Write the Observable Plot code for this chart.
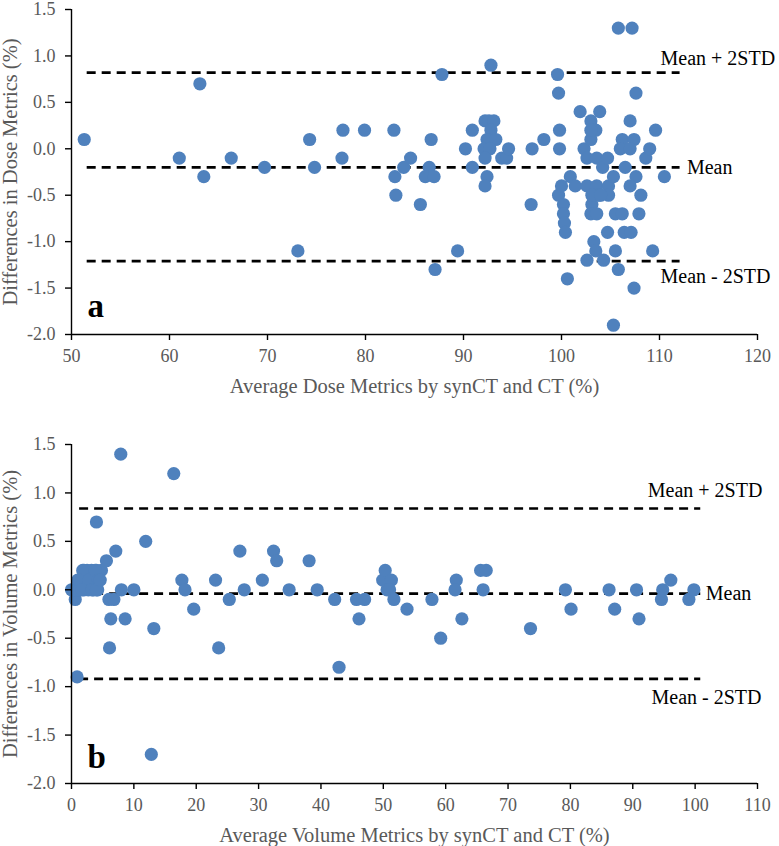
<!DOCTYPE html>
<html>
<head>
<meta charset="utf-8">
<script src="https://cdn.jsdelivr.net/npm/d3@7"></script>
<script src="https://cdn.jsdelivr.net/npm/@observablehq/plot@0.6"></script>
<style>
  html, body { margin: 0; padding: 0; background: #fff; }
  #chart svg { display: block; }
</style>
</head>
<body>
<div id="chart"></div>
<script>
// ---- Panel a: dose metrics ----
const doseAvg = [
  51.3, 61.0, 63.1, 63.5, 66.3, 69.7, 73.1, 74.3, 74.8, 77.7, 77.6, 79.9,
  82.9, 83.0, 83.1, 83.9, 84.6, 85.6, 86.7, 86.5, 86.1, 87.0, 87.1, 87.8,
  89.4, 90.2, 90.9, 90.9, 92.8, 92.2, 92.6, 93.1, 92.8, 92.4, 93.3, 92.1,
  92.7, 92.2, 92.4, 92.2, 93.9, 94.4, 94.6, 96.9, 97.0, 98.2, 99.6, 99.7,
  99.8, 99.8, 99.7, 100.0, 100.2, 100.2, 100.3, 100.4, 100.6, 100.9, 101.4, 101.9,
  102.3, 102.6, 102.6, 102.6, 103.0, 103.5, 103.0, 103.0, 103.6, 103.1, 103.0, 103.6,
  103.6, 103.3, 103.5, 103.9, 104.2, 104.7, 103.8, 104.8, 104.8, 104.3, 104.7, 105.3,
  105.3, 105.5, 106.2, 105.5, 105.8, 105.8, 107.2, 106.2, 107.4, 106.0, 107.0, 106.5,
  106.4, 107.1, 107.0, 107.6, 107.6, 107.0, 108.1, 107.9, 107.4, 108.6, 109.0, 109.6,
  109.3, 110.5, 103.1, 104.0
];
const doseDiff = [
   0.1, -0.1,  0.7, -0.3, -0.1, -0.2, -1.1,  0.1, -0.2,  0.2, -0.1,  0.2,
   0.2, -0.3, -0.5, -0.2, -0.1, -0.6,  0.1, -0.2, -0.3, -0.3, -1.3,  0.8,
  -1.1,  0.0,  0.2, -0.2,  0.9,  0.3,  0.3,  0.3,  0.2,  0.1,  0.1,  0.0,
   0.0, -0.1, -0.3, -0.4, -0.1, -0.1,  0.0, -0.6,  0.0,  0.1,  0.8,  0.6,
   0.2,  0.0, -0.5, -0.4, -0.6, -0.7, -0.8, -0.9, -1.4, -0.3, -0.4,  0.4,
   0.0, -0.1, -0.4, -1.2,  0.3,  0.2,  0.1,  0.2, -0.1, -0.6, -0.7, -0.7,
  -0.4, -1.0, -1.1,  0.4, -0.2, -0.1, -0.5, -0.4, -0.5, -1.2, -0.9, -0.3,
  -1.9, -0.7, -0.7, -1.1, -1.3,  1.3,  1.3,  0.1,  0.1,  0.0,  0.0, -0.2,
  -0.9, -0.9,  0.3,  0.6, -0.3, -0.4, -0.5, -0.7, -1.5, -0.1,  0.0,  0.2,
  -1.1, -0.3, -0.5, -0.5
];
const doseMean = -0.2, doseUpper = 0.82, doseLower = -1.21;
const doseXTicks = [50, 60, 70, 80, 90, 100, 110, 120];

// ---- Panel b: volume metrics ----
const volAvg = [
  0.0, 0.6, 0.9, 0.3, 0.8, 1.0, 1.3, 1.5, 1.8, 2.0, 2.2, 2.5, 2.7, 3.0, 3.2, 3.5,
  3.7, 4.0, 4.2, 4.5, 4.8, 2.0, 1.2, 2.8, 3.8, 4.3, 1.7, 3.3, 4.0, 4.6,
  4.0, 5.6, 7.1, 7.9, 6.0, 6.8, 6.3, 6.1, 8.0, 8.6, 10.0, 11.9, 12.8, 13.2,
  16.4, 17.7, 18.2, 19.6, 23.1, 23.6, 25.3, 27.0, 27.7, 30.6, 32.4, 32.9, 34.9,
  38.1, 39.4, 42.2, 42.9, 45.7, 47.0, 46.1, 49.9, 50.3, 50.6, 51.3, 51.0, 51.7,
  53.8, 57.8, 59.2, 61.7, 61.5, 62.6, 65.6, 66.5, 66.0, 73.6, 79.2, 80.1, 86.2,
  87.1, 90.6, 91.0, 94.6, 94.8, 96.1, 99.0, 99.8
];
const volDiff = [
   0.0, -0.1, -0.9,  0.0,  0.0,  0.1,  0.0,  0.1,  0.2,  0.0,  0.1,  0.2,  0.0,  0.1,  0.2,  0.0,
   0.1,  0.2,  0.0,  0.1,  0.2,  0.2,  0.1,  0.1,  0.2,  0.1,  0.0,  0.0,  0.0,  0.1,
   0.7,  0.3,  0.4,  1.4, -0.1, -0.1, -0.3, -0.6,  0.0, -0.3,  0.0,  0.5, -1.7, -0.4,
   1.2,  0.1,  0.0, -0.2,  0.1, -0.6, -0.1,  0.4,  0.0,  0.1,  0.4,  0.3,  0.0,
   0.3,  0.0, -0.1, -0.8, -0.1, -0.1, -0.3,  0.1,  0.2,  0.0,  0.1,  0.0, -0.1,
  -0.2, -0.1, -0.5,  0.1,  0.0, -0.3,  0.2,  0.2,  0.0, -0.4,  0.0, -0.2,  0.0,
  -0.2,  0.0, -0.3, -0.1,  0.0,  0.1, -0.1,  0.0
];
const volMean = -0.04, volUpper = 0.84, volLower = -0.92;
const volXTicks = [0, 10, 20, 30, 40, 50, 60, 70, 80, 90, 100, 110];

const yTicks = [-2.0, -1.5, -1.0, -0.5, 0.0, 0.5, 1.0, 1.5];
const limitLabels = ["Mean + 2STD", "Mean", "Mean - 2STD"];

const FONT = '"Liberation Serif", "Times New Roman", serif';
const BLUE = "#4F81BD";
const GREY = "#595959";
const fmt = d => d.toFixed(1);

function panel({avg, diff, xDomain, xTicks, mean, upper, lower, lineX, labelX, meanLabelX,
                upDy, lowDy, letter, letterDy, xTitle, yTitle, height, marginTop, marginBottom}) {
  const pts = avg.map((x, i) => ({x, y: diff[i]}));
  const lims = [upper, mean, lower];
  return Plot.plot({
    width: 779, height, marginLeft: 71, marginRight: 22, marginTop, marginBottom,
    x: {domain: xDomain},
    y: {domain: [-2, 1.5]},
    style: {fontFamily: FONT, fontSize: "18px", background: "white", overflow: "visible"},
    marks: [
      Plot.ruleY(lims, {x1: lineX[0], x2: lineX[1], y: d => d, stroke: "black", strokeWidth: 2.6, strokeDasharray: "9,6"}),
      Plot.dot(pts, {x: "x", y: "y", r: 6.6, fill: BLUE}),
      Plot.ruleX([xDomain[0]], {stroke: "black", strokeWidth: 1.4}),
      Plot.ruleY([-2], {stroke: "black", strokeWidth: 1.4}),
      Plot.axisY({ticks: yTicks, tickSize: 6, tickFormat: () => "", color: "black", strokeWidth: 1.4, label: null}),
      Plot.axisY({ticks: yTicks, tickSize: 0, tickPadding: 16, tickFormat: fmt, color: GREY, fontSize: 18, label: null}),
      Plot.axisX({ticks: xTicks, tickSize: 6, tickFormat: () => "", color: "black", strokeWidth: 1.4, label: null}),
      Plot.axisX({ticks: xTicks, tickSize: 0, tickPadding: 15, tickFormat: d => String(d), color: GREY, fontSize: 18, label: null}),
      Plot.text([limitLabels[0]], {x: labelX[0], y: upper, text: d => d, textAnchor: "start", lineAnchor: "bottom", dy: upDy, fontSize: 20, fill: "black"}),
      Plot.text([limitLabels[1]], {x: meanLabelX, y: mean, text: d => d, textAnchor: "start", lineAnchor: "middle", fontSize: 20, fill: "black"}),
      Plot.text([limitLabels[2]], {x: labelX[1], y: lower, text: d => d, textAnchor: "start", lineAnchor: "bottom", dy: lowDy, fontSize: 20, fill: "black"}),
      Plot.text([letter], {frameAnchor: "bottom-left", text: d => d, textAnchor: "start", lineAnchor: "bottom", dx: 16, dy: letterDy, fontSize: 33, fontWeight: "bold", fill: "black"}),
      Plot.text([xTitle], {frameAnchor: "bottom", text: d => d, textAnchor: "middle", lineAnchor: "bottom", dy: 58, fontSize: 20.5, fill: GREY}),
      Plot.text([yTitle], {frameAnchor: "left", text: d => d, rotate: -90, textAnchor: "middle", lineAnchor: "middle", dx: -61, fontSize: 20.5, fill: GREY})
    ]
  });
}

const chart = document.getElementById("chart");
chart.append(panel({
  avg: doseAvg, diff: doseDiff, xDomain: [50, 120], xTicks: doseXTicks,
  mean: doseMean, upper: doseUpper, lower: doseLower,
  lineX: [51.6, 112.1], labelX: [110.1, 110.1], meanLabelX: 112.8,
  upDy: -8, lowDy: 22, letter: "a", letterDy: -18,
  xTitle: "Average Dose Metrics by synCT and CT (%)",
  yTitle: "Differences in Dose Metrics (%)",
  height: 415, marginTop: 9, marginBottom: 81
}));
chart.append(panel({
  avg: volAvg, diff: volDiff, xDomain: [0, 110], xTicks: volXTicks,
  mean: volMean, upper: volUpper, lower: volLower,
  lineX: [1.3, 100.9], labelX: [92.4, 93.0], meanLabelX: 101.7,
  upDy: -11, lowDy: 25, letter: "b", letterDy: -16,
  xTitle: "Average Volume Metrics by synCT and CT (%)",
  yTitle: "Differences in Volume Metrics (%)",
  height: 431, marginTop: 29, marginBottom: 63
}));
</script>
</body>
</html>
